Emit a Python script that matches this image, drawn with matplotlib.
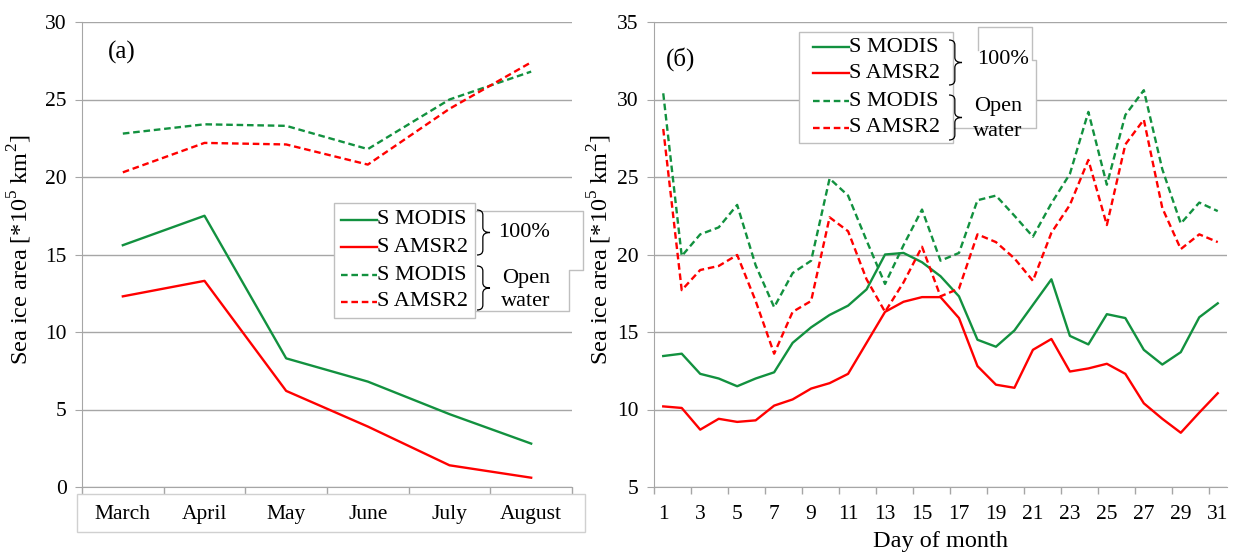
import matplotlib
matplotlib.use("Agg")
import matplotlib.pyplot as plt
from matplotlib.lines import Line2D
from matplotlib.patches import Polygon, Rectangle, PathPatch
from matplotlib.path import Path

plt.rcParams['font.family'] = ['Liberation Serif', 'DejaVu Serif']
plt.rcParams['mathtext.fontset'] = 'custom'
plt.rcParams['mathtext.rm'] = 'Liberation Serif'

# ---------------- data ----------------
months = ["March", "April", "May", "June", "July", "August"]
m_modis_100 = [15.6, 17.5, 8.3, 6.8, 4.7, 2.8]
m_amsr_100 = [12.3, 13.3, 6.2, 3.9, 1.4, 0.6]
m_modis_open = [22.8, 23.4, 23.3, 21.8, 25.0, 26.8]
m_amsr_open = [20.3, 22.2, 22.1, 20.8, 24.4, 27.4]

days = list(range(1, 32))
d_modis_100 = [13.45, 13.6, 12.3, 12.0, 11.5, 12.0, 12.4, 14.3, 15.3, 16.1, 16.7, 17.75,
               20.0, 20.1, 19.5, 18.6, 17.3, 14.5, 14.05, 15.1, 16.75, 18.4, 14.75, 14.2,
               16.15, 15.9, 13.85, 12.9, 13.7, 15.95, 16.85]
d_amsr_100 = [10.2, 10.1, 8.7, 9.4, 9.2, 9.3, 10.25, 10.65, 11.35, 11.7, 12.3, 14.3,
              16.3, 16.95, 17.25, 17.25, 15.9, 12.8, 11.6, 11.4, 13.85, 14.55, 12.45, 12.65,
              12.95, 12.3, 10.4, 9.4, 8.5, 9.8, 11.05]
d_modis_open = [30.4, 19.9, 21.3, 21.75, 23.2, 19.3, 16.6, 18.8, 19.6, 24.9, 23.8, 20.9,
                18.1, 20.6, 22.9, 19.6, 20.1, 23.5, 23.8, 22.5, 21.15, 23.3, 25.2, 29.2,
                24.5, 29.0, 30.6, 25.5, 22.0, 23.35, 22.8]
d_amsr_open = [28.1, 17.7, 19.0, 19.26, 19.97, 17.0, 13.6, 16.3, 17.0, 22.4, 21.5, 18.4,
               16.3, 18.2, 20.5, 17.3, 17.8, 21.3, 20.8, 19.75, 18.3, 21.4, 23.2, 26.1,
               21.9, 27.1, 28.7, 23.0, 20.35, 21.3, 20.8]

left_yticks = [0, 5, 10, 15, 20, 25, 30]
right_yticks = [5, 10, 15, 20, 25, 30, 35]
day_ticks = list(range(1, 32, 2))

labels = ["S MODIS", "S AMSR2", "S MODIS", "S AMSR2"]
GREEN = "#12913F"
RED = "#FF0000"
GRAY = "#A6A6A6"
LW = 1.7
DASH = (2.8, 1.6)

W, H = 1243, 555
fig = plt.figure(figsize=(W / 100, H / 100), dpi=100)


def fx(x):
    return x / W


def fy(y):
    return 1 - y / H


axL = fig.add_axes([fx(82), fy(487), fx(572) - fx(82), fy(22) - fy(487)])
axR = fig.add_axes([fx(654), fy(487), fx(1227) - fx(654), fy(22) - fy(487)])

ylabel = "Sea ice area [*10$^{\\mathregular{5}}$ km$^{\\mathregular{2}}$]"


def style(ax):
    for s in ["top", "right"]:
        ax.spines[s].set_visible(False)
    ax.spines["left"].set_color(GRAY)
    ax.spines["bottom"].set_color(GRAY)
    ax.grid(axis="y", color=GRAY, lw=1.0)
    ax.set_axisbelow(True)
    ax.tick_params(axis="y", which="major", length=5, color=GRAY, labelsize=15.5, pad=6)
    ax.tick_params(axis="x", which="major", length=0, labelsize=15.5)
    ax.tick_params(axis="x", which="minor", length=5, color=GRAY, width=1)


# ---- left panel ----
xs = list(range(len(months)))
axL.plot(xs, m_modis_100, color=GREEN, lw=LW)
axL.plot(xs, m_amsr_100, color=RED, lw=LW)
axL.plot(xs, m_modis_open, color=GREEN, lw=LW, ls=(0, DASH))
axL.plot(xs, m_amsr_open, color=RED, lw=LW, ls=(0, DASH))
axL.set_xlim(-0.5, len(months) - 0.5)
axL.set_ylim(0, 30)
axL.set_yticks(left_yticks)
axL.set_xticks(xs)
axL.set_xticklabels(months)
axL.set_xticks([i - 0.5 for i in range(len(months) + 1)], minor=True)
style(axL)
axL.tick_params(axis="x", which="major", pad=13)
axL.set_ylabel(ylabel, fontsize=17.5)
axL.yaxis.set_label_coords(-0.097, 0.51)
axL.text(0.052, 0.935, "(a)", transform=axL.transAxes, fontsize=18, va="center")

# ---- right panel ----
axR.plot(days, d_modis_100, color=GREEN, lw=LW)
axR.plot(days, d_amsr_100, color=RED, lw=LW)
axR.plot(days, d_modis_open, color=GREEN, lw=LW, ls=(0, DASH))
axR.plot(days, d_amsr_open, color=RED, lw=LW, ls=(0, DASH))
axR.set_xlim(0.5, 31.5)
axR.set_ylim(5, 35)
axR.set_yticks(right_yticks)
axR.set_xticks(day_ticks)
axR.set_xticks([d - 0.5 for d in day_ticks], minor=True)
style(axR)
axR.tick_params(axis="x", which="major", pad=13)
axR.set_ylabel(ylabel, fontsize=17.5)
axR.yaxis.set_label_coords(-0.07, 0.51)
axR.set_xlabel("Day of month", fontsize=17.5, labelpad=5)
axR.text(0.02, 0.92, "(б)", transform=axR.transAxes, fontsize=18, va="center")

# box around month labels
fig.add_artist(Rectangle((fx(77), fy(532)), fx(585) - fx(77), fy(494) - fy(532),
                         transform=fig.transFigure, fill=False, ec="#D0D0D0", lw=1.0))


def brace(x0, y0, y1, w):
    xm = x0 + w * 0.45
    ym = (y0 + y1) / 2
    r = 5
    pts = [(x0, y0), (xm, y0), (xm, y0 + r), (xm, ym - r), (xm, ym), (x0 + w, ym),
           (xm, ym), (xm, ym + r), (xm, y1 - r), (xm, y1), (x0, y1)]
    codes = [Path.MOVETO, Path.CURVE3, Path.CURVE3, Path.LINETO, Path.CURVE3, Path.CURVE3,
             Path.CURVE3, Path.CURVE3, Path.LINETO, Path.CURVE3, Path.CURVE3]
    p = Path([(fx(a), fy(b)) for a, b in pts], codes)
    fig.add_artist(PathPatch(p, transform=fig.transFigure, fill=False, ec="black", lw=0.9, zorder=5))


def legend(box, rows, line_x, text_x, braces, texts, outline_fill, outline_edge):
    fig.add_artist(Polygon([(fx(a), fy(b)) for a, b in outline_fill], closed=True,
                           transform=fig.transFigure, fc="white", ec="none", zorder=2))
    fig.add_artist(Line2D([fx(a) for a, b in outline_edge], [fy(b) for a, b in outline_edge],
                          transform=fig.transFigure, color="#BFBFBF", lw=1.0, zorder=2.5))
    x0, y0, x1, y1 = box
    fig.add_artist(Rectangle((fx(x0), fy(y1)), fx(x1) - fx(x0), fy(y0) - fy(y1),
                             transform=fig.transFigure, fc="white", ec="#BFBFBF", lw=1.0, zorder=3))
    styles = [(GREEN, "-"), (RED, "-"), (GREEN, (0, DASH)), (RED, (0, DASH))]
    for (c, ls), y, lab in zip(styles, rows, labels):
        fig.add_artist(Line2D([fx(line_x[0]), fx(line_x[1])], [fy(y), fy(y)],
                              transform=fig.transFigure, color=c, ls=ls, lw=LW, zorder=4))
        fig.text(fx(text_x), fy(y), lab, fontsize=16, va="center", ha="left", zorder=4)
    for bx, by0, by1, bw in braces:
        brace(bx, by0, by1, bw)
    for tx, ty, t in texts:
        fig.text(fx(tx), fy(ty), t, fontsize=16, va="center", ha="center", zorder=4)


legend(box=(334, 203, 475, 318), rows=[220, 247, 275, 302], line_x=(341, 377), text_x=377,
       braces=[(477, 210, 255, 13), (477, 266, 310, 13)],
       texts=[(524, 233, "100%"), (526, 279, "Open"), (526, 302, "water")],
       outline_fill=[(475, 211), (583, 211), (583, 270), (569, 270), (569, 311), (475, 311)],
       outline_edge=[(475, 211), (583, 211), (583, 270), (569, 270), (569, 311), (475, 311)])

legend(box=(799, 32, 953, 143), rows=[47, 73, 101, 128], line_x=(813, 849), text_x=849,
       braces=[(949, 40, 85, 13), (949, 95, 140, 13)],
       texts=[(1003, 60, "100%"), (998, 106, "Open"), (998, 132, "water")],
       outline_fill=[(953, 60), (978, 60), (978, 27), (1032, 27), (1032, 60), (1036, 60),
                     (1036, 128), (953, 128)],
       outline_edge=[(978, 50), (978, 27), (1032, 27), (1032, 60), (1036, 60), (1036, 128),
                     (953, 128)])

fig.savefig("out.png", dpi=100)
